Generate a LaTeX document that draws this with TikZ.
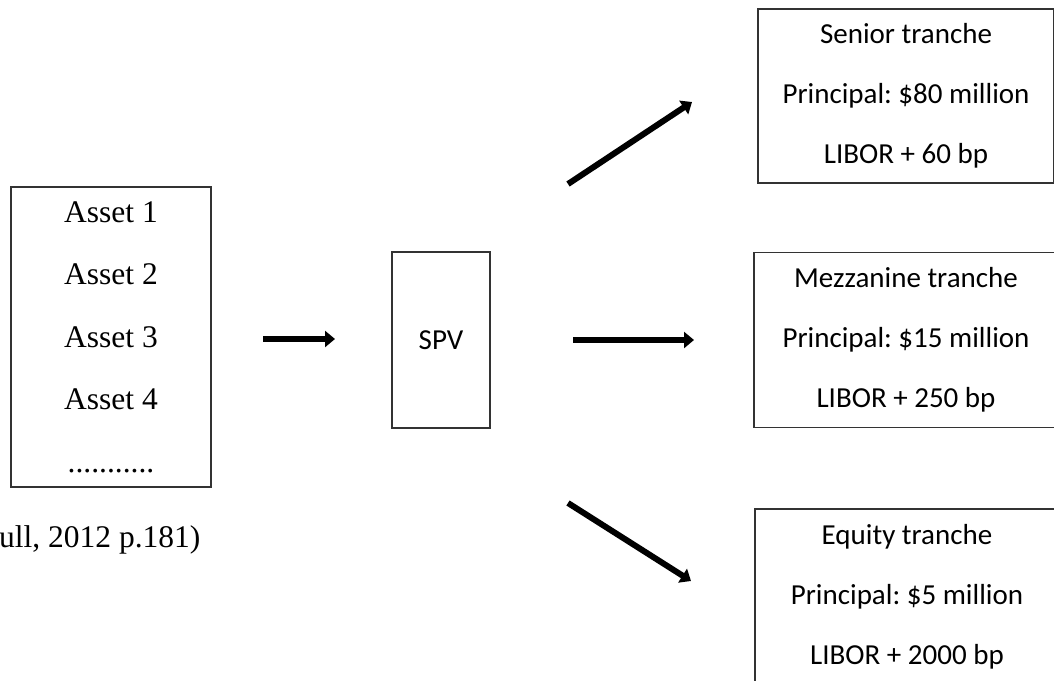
\documentclass[tikz,border=0pt]{standalone}
\usepackage{fontspec}
\setmainfont{Liberation Serif}
\newfontfamily\calib{Carlito}
\usetikzlibrary{arrows.meta}
\frenchspacing
\begin{document}
\begin{tikzpicture}[x=1pt,y=-1pt,
  box/.style={draw=black!80,line width=1.2pt,inner sep=0pt,align=center},
  tnr/.style={font=\fontsize{31.5}{62.5}\selectfont},
  cal/.style={font=\calib\fontsize{29}{60}\selectfont},
  fat/.style={line width=6pt,-{Triangle[length=10pt,width=16pt]}}]
\useasboundingbox (0,0) rectangle (1054,680);
\node[box,tnr,minimum width=200pt,minimum height=300pt] (assets) at (111,337)
  {Asset 1\\Asset 2\\Asset 3\\Asset 4\\...........};
\node[box,cal,minimum width=98pt,minimum height=176pt] (spv) at (441,340) {SPV};
\node[box,cal,minimum width=296pt,minimum height=174pt] (senior) at (906,96)
  {Senior tranche\\Principal: \$80 million\\LIBOR + 60 bp};
\node[box,cal,minimum width=304pt,minimum height=175pt] (mezz) at (906,340)
  {Mezzanine tranche\\Principal: \$15 million\\LIBOR + 250 bp};
\node[box,cal,minimum width=304pt,minimum height=176pt] (equity) at (907,597)
  {Equity tranche\\Principal: \$5 million\\LIBOR + 2000 bp};
\node[tnr,anchor=west,inner sep=0pt] (cite) at (-1,540) {ull, 2012 p.181)};
\coordinate (a1s) at (263,339);
\coordinate (a1e) at (335,339);
\coordinate (a2s) at (573,340);
\coordinate (a2e) at (694,340);
\coordinate (a3s) at (568,184);
\coordinate (a3e) at (692,102);
\coordinate (a4s) at (568,503);
\coordinate (a4e) at (691,581);
\draw[fat] (a1s) -- (a1e);
\draw[fat] (a2s) -- (a2e);
\draw[fat] (a3s) -- (a3e);
\draw[fat] (a4s) -- (a4e);
\end{tikzpicture}
\end{document}
